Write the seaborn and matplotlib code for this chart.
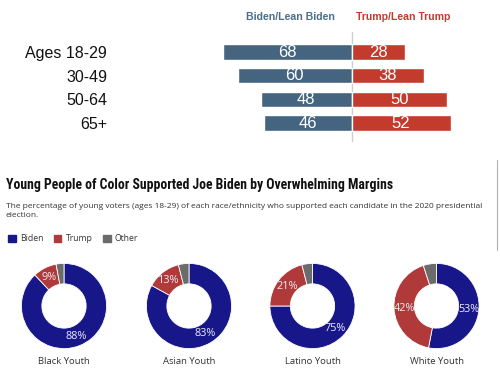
import matplotlib
matplotlib.use('Agg')
import matplotlib.pyplot as plt
import matplotlib.font_manager as fm
from matplotlib.patches import Patch
from matplotlib.lines import Line2D
import pandas as pd
import seaborn as sns

# --- data ---
ages = ['Ages 18-29', '30-49', '50-64', '65+']
biden_lean = [68, 60, 48, 46]
trump_lean = [28, 38, 50, 52]

groups = ['Black Youth', 'Asian Youth', 'Latino Youth', 'White Youth']
youth_biden = [88, 83, 75, 53]
youth_trump = [9, 13, 21, 42]
youth_other = [3, 4, 4, 5]

# colours
BAR_BIDEN = '#44647f'
BAR_TRUMP = '#c23b2c'
PIE_BIDEN = '#17178a'
PIE_TRUMP = '#b03a3a'
PIE_OTHER = '#6b6b6b'

sns.set_style('white')


def pick(*names):
    have = {f.name for f in fm.fontManager.ttflist}
    for n in names:
        if n in have:
            return n
    return 'DejaVu Sans'


ARIAL = pick('Liberation Sans', 'Arimo')
NARROW = pick('Liberation Sans Narrow', 'Roboto Condensed')
BODY = pick('Open Sans', 'Noto Sans')

W, H = 500, 380
fig = plt.figure(figsize=(5, 3.8), dpi=100)


def fx(px):
    return px / W


def fy(py):
    return 1 - py / H


# --- top: diverging bars ---
scale = 1.9           # px per percentage point
center = 351.7
xmin, xmax = -80, 67
ax = fig.add_axes([fx(center + xmin * scale), fy(142), (xmax - xmin) * scale / W, 110 / H])

df = pd.DataFrame({'age': ages, 'biden': [-v for v in biden_lean], 'trump': trump_lean})
sns.barplot(data=df, x='biden', y='age', orient='h', color=BAR_BIDEN, width=0.65,
            saturation=1, ax=ax)
sns.barplot(data=df, x='trump', y='age', orient='h', color=BAR_TRUMP, width=0.65,
            saturation=1, ax=ax)
ax.bar_label(ax.containers[0], labels=[str(v) for v in biden_lean], label_type='center',
             color='white', fontsize=12, family=ARIAL)
ax.bar_label(ax.containers[1], labels=[str(v) for v in trump_lean], label_type='center',
             color='white', fontsize=12, family=ARIAL)
ax.axvline(0, color='#cfcfcf', lw=1, zorder=0)
ax.set_xlim(xmin, xmax)
ax.set_ylim(3.8, -0.85)
ax.set_xticks([])
ax.set_xlabel('')
ax.set_ylabel('')
ax.tick_params(axis='y', left=False, length=0, pad=(center + xmin * scale - 107) * 0.72)
for lab in ax.get_yticklabels():
    lab.set_fontsize(11.5)
    lab.set_family(ARIAL)
    lab.set_color('#111111')
sns.despine(ax=ax, left=True, bottom=True)

fig.text(fx(290), fy(17), 'Biden/Lean Biden', ha='center', va='center', fontsize=7.6,
         fontweight='bold', color='#4a6e8c', family=ARIAL)
fig.text(fx(403), fy(17), 'Trump/Lean Trump', ha='center', va='center', fontsize=7.6,
         fontweight='bold', color='#c23b2c', family=ARIAL)

# --- bottom: donuts ---
fig.text(fx(6), fy(185), 'Young People of Color Supported Joe Biden by Overwhelming Margins',
         ha='left', va='center', fontsize=9.9, fontweight='bold', color='#111111', family=NARROW)
fig.text(fx(6), fy(203),
         'The percentage of young voters (ages 18-29) of each race/ethnicity who supported '
         'each candidate in the 2020 presidential\nelection.',
         ha='left', va='top', fontsize=6, color='#333333', family=BODY, linespacing=1.45)

handles = [Patch(color=PIE_BIDEN), Patch(color=PIE_TRUMP), Patch(color=PIE_OTHER)]
fig.legend(handles, ['Biden', 'Trump', 'Other'], loc='center left',
           bbox_to_anchor=(fx(0), fy(239)), ncol=3, frameon=False,
           handlelength=0.9, handleheight=0.9, handletextpad=0.5, columnspacing=1.2,
           prop={'family': BODY, 'size': 6.2}, labelcolor='#333333')

fig.add_artist(Line2D([fx(497), fx(497)], [fy(160), fy(250)], color='#b0b0b0', lw=0.8))

centers = [64, 189, 312.5, 436.5]
cy, r = 306, 43
for i, name in enumerate(groups):
    vals = [youth_biden[i], youth_trump[i], youth_other[i]]
    labels = iter([f'{youth_biden[i]}%', f'{youth_trump[i]}%', ''])
    pax = fig.add_axes([fx(centers[i] - r), fy(cy + r), 2 * r / W, 2 * r / H])
    pax.pie(vals, colors=[PIE_BIDEN, PIE_TRUMP, PIE_OTHER], startangle=90, counterclock=False,
            wedgeprops=dict(width=0.48, edgecolor='white', linewidth=0.6),
            autopct=lambda p: next(labels), pctdistance=0.76,
            textprops=dict(color='#ececf7', fontsize=7.8, family=BODY))
    pax.set_xlim(-1.01, 1.01)
    pax.set_ylim(-1.01, 1.01)
    pax.set_aspect('equal')
    pax.text(0.5, -0.15, name, transform=pax.transAxes, ha='center', va='center',
             fontsize=6.8, color='#333333', family=BODY)

fig.savefig('out.png', dpi=100)
